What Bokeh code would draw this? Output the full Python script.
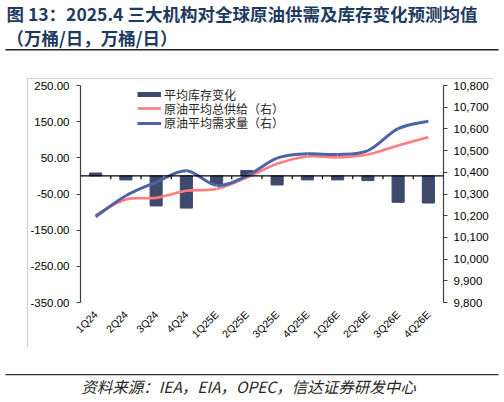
from math import pi

import numpy as np

from bokeh.plotting import figure
from bokeh.layouts import column
from bokeh.models import (Range1d, LinearAxis, FixedTicker, NumeralTickFormatter,
                          Span, Label, BoxAnnotation, Legend, LegendItem)
from bokeh.embed import file_html
from bokeh.resources import INLINE

quarters = ["1Q24", "2Q24", "3Q24", "4Q24", "1Q25E", "2Q25E",
            "3Q25E", "4Q25E", "1Q26E", "2Q26E", "3Q26E", "4Q26E"]
stock_change = [8, -11, -83, -89, -23, 15, -25, -11, -11, -13, -73, -75]
supply = [10204, 10275, 10282, 10315, 10323, 10376, 10439, 10473, 10469, 10482, 10524, 10562]
demand = [10195, 10292, 10354, 10407, 10340, 10383, 10465, 10485, 10482, 10500, 10601, 10636]

left_ticks = [-350, -250, -150, -50, 50, 150, 250]
right_ticks = list(range(9800, 10801, 100))

BAR = "#3E4A6D"
RED = "#FF7C80"
BLUE = "#4D63A4"
NAVY = "#1F3A5F"
CJK = "Noto Sans CJK SC"
LAT = "Liberation Sans"

xs = np.arange(len(quarters))


def smooth(x, y):
    # excel-style smoothed line: one cubic bezier per segment
    x = np.asarray(x, float)
    y = np.asarray(y, float)
    xp = np.concatenate([[x[0]], x, [x[-1]]])
    yp = np.concatenate([[y[0]], y, [y[-1]]])
    n = len(x) - 1
    cx0 = x[:-1] + (xp[2:n + 2] - xp[0:n]) / 6
    cy0 = y[:-1] + (yp[2:n + 2] - yp[0:n]) / 6
    cx1 = x[1:] - (xp[3:n + 3] - xp[1:n + 1]) / 6
    cy1 = y[1:] - (yp[3:n + 3] - yp[1:n + 1]) / 6
    return dict(x0=x[:-1], y0=y[:-1], x1=x[1:], y1=y[1:],
                cx0=cx0, cy0=cy0, cx1=cx1, cy1=cy1)


def blank(w, h):
    f = figure(width=w, height=h, x_range=Range1d(0, 1), y_range=Range1d(0, 1),
               x_axis_location=None, y_axis_location=None, frame_align=False,
               output_backend="svg", toolbar_location=None, min_border=0)
    f.outline_line_color = None
    f.grid.visible = False
    return f


def rule(f, left, right, top, thick, color):
    f.add_layout(BoxAnnotation(left=left, right=right, top=top, bottom=top - thick,
                               left_units="screen", right_units="screen",
                               top_units="screen", bottom_units="screen",
                               fill_color=color, fill_alpha=1, line_color=None))


# ---- title block
head = blank(500, 70)
head.add_layout(Label(x=6, y=57.5, x_units="screen", y_units="screen",
                      text="图 13：2025.4 三大机构对全球原油供需及库存变化预测均值",
                      text_font=CJK, text_font_size="17.5px", text_font_style="bold",
                      text_color=NAVY, text_baseline="middle"))
head.add_layout(Label(x=6, y=33, x_units="screen", y_units="screen",
                      text="（万桶/日，万桶/日）",
                      text_font=CJK, text_font_size="17.5px", text_font_style="bold",
                      text_color=NAVY, text_baseline="middle"))
rule(head, 5, 498, 21.5, 1.5, "#222222")

# ---- chart
p = figure(width=466, height=269, x_range=Range1d(-0.5, 11.5), y_range=Range1d(-350, 250),
           output_backend="svg", toolbar_location=None, frame_align=False,
           min_border_left=53, min_border_right=50, min_border_top=7, min_border_bottom=45)
p.margin = (8, 0, 0, 27)
p.styles = {"outline": "1px solid #BFBFBF", "outline-offset": "-1px"}
p.extra_y_ranges = {"right": Range1d(9800, 10800)}
p.outline_line_color = None
p.xgrid.visible = False
p.ygrid.visible = False

ya = p.yaxis[0]
ya.ticker = FixedTicker(ticks=left_ticks)
ya.formatter = NumeralTickFormatter(format="0.00")

ra = LinearAxis(y_range_name="right", ticker=FixedTicker(ticks=right_ticks),
                formatter=NumeralTickFormatter(format="0,0"))
p.add_layout(ra, "right")

for ax in (ya, ra):
    ax.axis_line_color = "#404040"
    ax.axis_line_width = 1.2
    ax.major_tick_line_color = "#404040"
    ax.major_tick_in = 0
    ax.major_tick_out = 4
    ax.minor_tick_line_color = None
    ax.major_label_text_font = LAT
    ax.major_label_text_font_size = "11.5px"
    ax.major_label_text_color = "black"
ya.major_label_standoff = 7
ra.major_label_standoff = 6

xa = p.xaxis[0]
xa.ticker = FixedTicker(ticks=list(xs))
xa.major_label_overrides = {int(i): q for i, q in zip(xs, quarters)}
xa.axis_line_color = None
xa.major_tick_line_color = None
xa.minor_tick_line_color = None
xa.major_label_orientation = pi / 4
xa.major_label_standoff = 4
xa.major_label_text_font = LAT
xa.major_label_text_font_size = "10.5px"
xa.major_label_text_color = "black"

p.vbar(x=xs, top=stock_change, width=0.4, color=BAR)
p.add_layout(Span(location=0, dimension="width", line_color="black", line_width=1.3))
bounds = xs[:-1] + 0.5
p.segment(x0=bounds, y0=0, x1=bounds, y1=-9, line_color="black", line_width=1.2)

p.bezier(source=smooth(xs, supply), x0="x0", y0="y0", x1="x1", y1="y1",
         cx0="cx0", cy0="cy0", cx1="cx1", cy1="cy1",
         line_color=RED, line_width=2.6, y_range_name="right")
p.bezier(source=smooth(xs, demand), x0="x0", y0="y0", x1="x1", y1="y1",
         cx0="cx0", cy0="cy0", cx1="cx1", cy1="cy1",
         line_color=BLUE, line_width=3, y_range_name="right")

# legend keys (no visible data of their own), one legend per row
bar_key = p.line(x=[np.nan], y=[np.nan], line_color=BAR, line_width=5)
red_key = p.line(x=[np.nan], y=[np.nan], line_color=RED, line_width=2.6)
blue_key = p.line(x=[np.nan], y=[np.nan], line_color=BLUE, line_width=3)

for label, key, ybot in [("平均库存变化", bar_key, 199.5),
                         ("原油平均总供给（右）", red_key, 185.5),
                         ("原油平均需求量（右）", blue_key, 171)]:
    p.add_layout(Legend(items=[LegendItem(label=label, renderers=[key])],
                        location=(57, ybot), orientation="vertical",
                        glyph_width=24, glyph_height=14, label_height=14, spacing=0,
                        padding=0, margin=0, label_standoff=3,
                        label_text_font="'Liberation Sans', 'Noto Sans CJK SC'",
                        label_text_font_size="12px", label_text_color="#262626",
                        border_line_color=None, background_fill_alpha=0))

# ---- source line
foot = blank(500, 49)
rule(foot, 5, 498, 22.5, 1.2, "#333333")
foot.add_layout(Label(x=248, y=11, x_units="screen", y_units="screen",
                      text="资料来源：IEA，EIA，OPEC，信达证券研发中心",
                      text_font=CJK, text_font_size="15.5px", text_font_style="italic",
                      text_color="#262626", text_align="center", text_baseline="middle"))

page = column(head, p, foot, spacing=0)
open("out.html", "w").write(file_html(page, INLINE))
